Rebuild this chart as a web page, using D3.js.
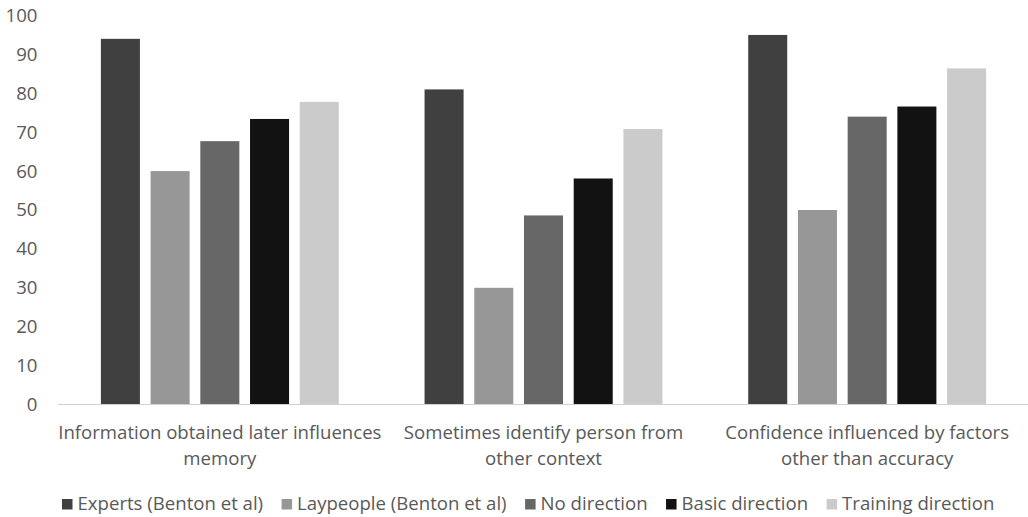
<!DOCTYPE html>
<html>
<head>
<meta charset="utf-8">
<script src="https://cdn.jsdelivr.net/npm/d3@7"></script>
<style>
  html, body { margin: 0; padding: 0; background: #fff; }
  svg { display: block; font-family: "Open Sans", Lato, sans-serif; }
</style>
</head>
<body>
<svg id="chart"></svg>
<script>
const categories = [
  ["Information obtained later influences", "memory"],
  ["Sometimes identify person from", "other context"],
  ["Confidence influenced by factors", "other than accuracy"]
];
const seriesNames = ["Experts (Benton et al)", "Laypeople (Benton et al)", "No direction", "Basic direction", "Training direction"];
const seriesColors = ["#404040", "#979797", "#676767", "#121212", "#cbcbcb"];
const experts = [94, 81, 95];
const laypeople = [60, 30, 50];
const noDirection = [67.7, 48.6, 74];
const basicDirection = [73.4, 58.1, 76.6];
const trainingDirection = [77.8, 70.8, 86.4];
const yTicks = [0, 10, 20, 30, 40, 50, 60, 70, 80, 90, 100];

const seriesValues = [experts, laypeople, noDirection, basicDirection, trainingDirection];

const width = 1028, height = 517;
const margin = { top: 15.5, right: 0, bottom: 112.5, left: 58 };
const fontSize = "18.6px";

const svg = d3.select("#chart")
  .attr("width", width)
  .attr("height", height);

const x0 = d3.scaleBand()
  .domain(d3.range(categories.length))
  .range([margin.left, width - margin.right + 1])
  .paddingInner(0.265)
  .paddingOuter(0.1325);

const x1 = d3.scaleBand()
  .domain(d3.range(seriesNames.length))
  .range([0, x0.bandwidth()])
  .paddingInner(0.215);

const y = d3.scaleLinear()
  .domain([0, 100])
  .range([height - margin.bottom, margin.top]);

// y tick labels, no axis line
const yAxis = svg.append("g")
  .attr("transform", `translate(${margin.left}, 0)`)
  .call(d3.axisLeft(y).tickValues(yTicks).tickSize(0).tickPadding(20.5));
yAxis.select(".domain").remove();
yAxis.selectAll("text")
  .attr("fill", "#595959")
  .style("font-size", fontSize)
  .style("font-family", "'Open Sans', Lato, sans-serif");

// bars
const groups = svg.append("g")
  .selectAll("g")
  .data(categories.map((c, i) => i))
  .enter()
  .append("g")
  .attr("transform", i => `translate(${x0(i)}, 0)`);

groups.selectAll("rect")
  .data(i => seriesValues.map((vals, s) => ({ s, v: vals[i] })))
  .enter()
  .append("rect")
  .attr("x", d => x1(d.s))
  .attr("y", d => y(d.v))
  .attr("width", x1.bandwidth())
  .attr("height", d => y(0) - y(d.v))
  .attr("fill", d => seriesColors[d.s]);

// baseline
svg.append("line")
  .attr("x1", margin.left)
  .attr("x2", width)
  .attr("y1", y(0))
  .attr("y2", y(0))
  .attr("stroke", "#d0d0d0")
  .attr("stroke-width", 1.2);

// category labels
const catLabels = svg.append("g")
  .selectAll("text")
  .data(categories)
  .enter()
  .append("text")
  .attr("text-anchor", "middle")
  .attr("fill", "#595959")
  .style("font-size", fontSize)
  .attr("x", (d, i) => x0(i) + x0.bandwidth() / 2)
  .attr("y", 438.5);

catLabels.selectAll("tspan")
  .data(d => d)
  .enter()
  .append("tspan")
  .attr("x", function () { return d3.select(this.parentNode).attr("x"); })
  .attr("dy", (d, i) => i === 0 ? 0 : 26.5)
  .text(d => d);

// legend
const legend = svg.append("g").attr("transform", "translate(62, 510)");
let lx = 0;
seriesNames.forEach((name, i) => {
  const item = legend.append("g").attr("transform", `translate(${lx}, 0)`);
  item.append("rect")
    .attr("x", 0)
    .attr("y", -11)
    .attr("width", 10.5)
    .attr("height", 10.5)
    .attr("fill", seriesColors[i]);
  const t = item.append("text")
    .attr("x", 15.5)
    .attr("y", 0)
    .attr("fill", "#595959")
    .style("font-size", fontSize)
    .text(name);
  lx += 15.5 + t.node().getComputedTextLength() + 18.5;
});
</script>
</body>
</html>
